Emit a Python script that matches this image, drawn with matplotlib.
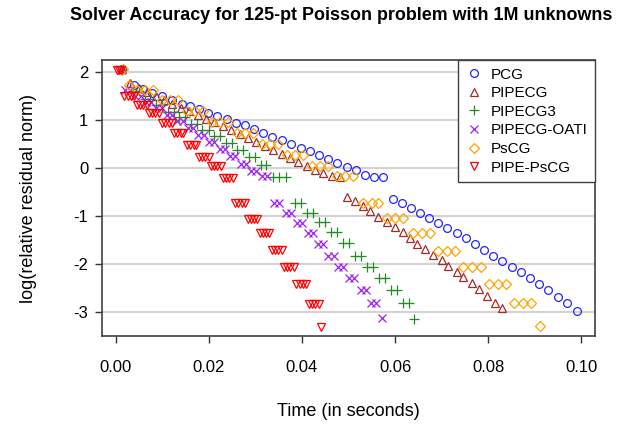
#!/usr/bin/env python3
"""
Solver accuracy plot: log relative residual norm vs. wall time
for CG variants on a 125-pt Poisson problem.
"""

import matplotlib
matplotlib.use("Agg")
import matplotlib.pyplot as plt

# PCG
pcg_time = [0.0012, 0.0039, 0.0058, 0.0077, 0.0099, 0.0120, 0.0142, 0.0159, 0.0178, 0.0198,
            0.0217, 0.0239, 0.0258, 0.0277, 0.0297, 0.0316, 0.0335, 0.0357, 0.0376, 0.0398,
            0.0417, 0.0437, 0.0456, 0.0475, 0.0497, 0.0516, 0.0535, 0.0555, 0.0574, 0.0596,
            0.0615, 0.0634, 0.0654, 0.0673, 0.0692, 0.0712, 0.0733, 0.0753, 0.0772, 0.0791,
            0.0811, 0.0830, 0.0852, 0.0871, 0.0890, 0.0910, 0.0929, 0.0951, 0.0970, 0.0991]
pcg_res = [2.07, 1.74, 1.66, 1.57, 1.51, 1.43, 1.34, 1.30, 1.24, 1.16,
           1.09, 1.03, 0.95, 0.91, 0.82, 0.74, 0.65, 0.59, 0.51, 0.43,
           0.36, 0.28, 0.20, 0.11, 0.03, -0.03, -0.14, -0.18, -0.18, -0.64,
           -0.72, -0.83, -0.93, -1.03, -1.14, -1.24, -1.34, -1.45, -1.58, -1.70,
           -1.83, -1.93, -2.06, -2.16, -2.29, -2.41, -2.54, -2.68, -2.81, -2.97]

# PIPECG
pipecg_time = [0.0013, 0.0030, 0.0049, 0.0067, 0.0086, 0.0103, 0.0120, 0.0140, 0.0157, 0.0176,
               0.0194, 0.0211, 0.0230, 0.0247, 0.0267, 0.0284, 0.0301, 0.0320, 0.0338, 0.0357,
               0.0374, 0.0391, 0.0411, 0.0428, 0.0445, 0.0465, 0.0482, 0.0496, 0.0514, 0.0532,
               0.0546, 0.0564, 0.0582, 0.0600, 0.0617, 0.0632, 0.0647, 0.0665, 0.0682, 0.0700,
               0.0715, 0.0733, 0.0747, 0.0765, 0.0781, 0.0797, 0.0814, 0.0829]
pipecg_res = [2.08, 1.78, 1.68, 1.59, 1.51, 1.43, 1.34, 1.26, 1.20, 1.11,
              1.03, 0.97, 0.88, 0.80, 0.72, 0.63, 0.55, 0.47, 0.38, 0.30,
              0.22, 0.13, 0.05, -0.03, -0.10, -0.16, -0.18, -0.60, -0.69, -0.78,
              -0.88, -1.01, -1.11, -1.22, -1.32, -1.46, -1.58, -1.69, -1.81, -1.92,
              -2.04, -2.15, -2.26, -2.38, -2.52, -2.66, -2.80, -2.92]

# PIPECG3
pipecg3_time = [0.0012, 0.0037, 0.0049, 0.0062, 0.0074, 0.0086, 0.0099, 0.0111, 0.0124, 0.0136,
                0.0149, 0.0161, 0.0174, 0.0186, 0.0199, 0.0211, 0.0224, 0.0236, 0.0249, 0.0261,
                0.0274, 0.0286, 0.0298, 0.0311, 0.0323, 0.0337, 0.0351, 0.0366, 0.0385, 0.0398,
                0.0411, 0.0424, 0.0437, 0.0449, 0.0462, 0.0475, 0.0488, 0.0501, 0.0514, 0.0527,
                0.0540, 0.0553, 0.0566, 0.0578, 0.0591, 0.0604, 0.0617, 0.0630, 0.0641]
pipecg3_res = [2.05, 1.61, 1.61, 1.45, 1.45, 1.32, 1.32, 1.18, 1.18, 1.07,
               1.07, 0.93, 0.93, 0.80, 0.80, 0.68, 0.68, 0.53, 0.53, 0.38,
               0.38, 0.24, 0.24, 0.07, 0.07, -0.18, -0.18, -0.18, -0.72, -0.72,
               -0.92, -0.92, -1.12, -1.12, -1.33, -1.33, -1.56, -1.56, -1.83, -1.83,
               -2.06, -2.06, -2.29, -2.29, -2.54, -2.54, -2.80, -2.80, -3.13]

# PIPECG-OATI
oati_time = [0.0011, 0.0019, 0.0031, 0.0042, 0.0053, 0.0065, 0.0076, 0.0087, 0.0098, 0.0110,
             0.0121, 0.0132, 0.0144, 0.0155, 0.0166, 0.0177, 0.0189, 0.0200, 0.0211, 0.0223,
             0.0234, 0.0245, 0.0256, 0.0268, 0.0279, 0.0290, 0.0302, 0.0313, 0.0324, 0.0340,
             0.0351, 0.0365, 0.0376, 0.0390, 0.0401, 0.0412, 0.0423, 0.0434, 0.0446, 0.0457,
             0.0468, 0.0478, 0.0489, 0.0501, 0.0512, 0.0526, 0.0538, 0.0548, 0.0559, 0.0571]
oati_res = [2.05, 1.64, 1.64, 1.51, 1.51, 1.38, 1.38, 1.26, 1.26, 1.11,
            1.11, 0.99, 0.99, 0.84, 0.84, 0.70, 0.70, 0.55, 0.55, 0.40,
            0.40, 0.26, 0.26, 0.09, 0.09, -0.05, -0.05, -0.16, -0.16, -0.72,
            -0.72, -0.92, -0.92, -1.13, -1.13, -1.34, -1.34, -1.58, -1.58, -1.83,
            -1.83, -2.06, -2.06, -2.29, -2.29, -2.54, -2.54, -2.81, -2.81, -3.11]

# PsCG
pscg_time = [0.0016, 0.0028, 0.0045, 0.0062, 0.0080, 0.0099, 0.0116, 0.0133, 0.0153, 0.0170,
             0.0187, 0.0206, 0.0224, 0.0241, 0.0260, 0.0277, 0.0295, 0.0314, 0.0331, 0.0348,
             0.0368, 0.0385, 0.0402, 0.0422, 0.0439, 0.0456, 0.0475, 0.0492, 0.0510, 0.0532,
             0.0550, 0.0564, 0.0582, 0.0600, 0.0617, 0.0639, 0.0657, 0.0675, 0.0693, 0.0711,
             0.0729, 0.0747, 0.0765, 0.0784, 0.0803, 0.0821, 0.0839, 0.0856, 0.0875, 0.0892,
             0.0912]
pscg_res = [2.07, 1.74, 1.64, 1.64, 1.64, 1.43, 1.43, 1.43, 1.20, 1.20,
            1.20, 0.97, 0.97, 0.97, 0.74, 0.74, 0.74, 0.51, 0.51, 0.51,
            0.28, 0.28, 0.28, 0.05, 0.05, 0.05, -0.16, -0.16, -0.16, -0.72,
            -0.72, -0.72, -1.03, -1.03, -1.03, -1.34, -1.34, -1.34, -1.72, -1.72,
            -1.72, -2.06, -2.06, -2.06, -2.41, -2.41, -2.41, -2.81, -2.81, -2.81,
            -3.29]

# PIPE-PsCG
pipepscg_time = [0.0003, 0.0007, 0.0011, 0.0018, 0.0025, 0.0032, 0.0039, 0.0045, 0.0052, 0.0059,
                 0.0066, 0.0071, 0.0078, 0.0085, 0.0092, 0.0099, 0.0106, 0.0113, 0.0120, 0.0125,
                 0.0132, 0.0139, 0.0145, 0.0153, 0.0160, 0.0167, 0.0173, 0.0179, 0.0185, 0.0192,
                 0.0199, 0.0204, 0.0211, 0.0218, 0.0225, 0.0230, 0.0237, 0.0244, 0.0251, 0.0256,
                 0.0263, 0.0270, 0.0277, 0.0283, 0.0290, 0.0297, 0.0304, 0.0309, 0.0316, 0.0322,
                 0.0329, 0.0336, 0.0342, 0.0349, 0.0356, 0.0361, 0.0368, 0.0375, 0.0382, 0.0388,
                 0.0395, 0.0402, 0.0409, 0.0415, 0.0422, 0.0429, 0.0436, 0.0441]
pipepscg_res = [2.05, 2.05, 2.05, 1.51, 1.51, 1.51, 1.51, 1.32, 1.32, 1.32,
                1.32, 1.16, 1.16, 1.16, 1.16, 0.94, 0.94, 0.94, 0.94, 0.73,
                0.73, 0.73, 0.73, 0.49, 0.49, 0.49, 0.49, 0.24, 0.24, 0.24,
                0.24, 0.04, 0.04, 0.04, 0.04, -0.21, -0.21, -0.21, -0.21, -0.72,
                -0.72, -0.72, -0.72, -1.06, -1.06, -1.06, -1.06, -1.35, -1.35, -1.35,
                -1.35, -1.71, -1.71, -1.71, -1.71, -2.06, -2.06, -2.06, -2.06, -2.41,
                -2.41, -2.41, -2.41, -2.83, -2.83, -2.83, -2.83, -3.30]

labels = ["PCG", "PIPECG", "PIPECG3", "PIPECG-OATI", "PsCG", "PIPE-PsCG"]
colors = ["#2424ff", "#a52a2a", "#228b22", "#a020f0", "#ffa500", "#ff0000"]
markers = ["o", "^", "+", "x", "D", "v"]
msizes = [5.6, 6.0, 7.4, 5.2, 5.0, 6.2]

y_ticks = [-3, -2, -1, 0, 1, 2]
x_ticks = [0.00, 0.02, 0.04, 0.06, 0.08, 0.10]


def main():
    plt.rcParams["font.family"] = ["Liberation Sans", "DejaVu Sans"]

    fig = plt.figure(figsize=(6.36, 4.25), dpi=100)
    ax = fig.add_axes([0.1604, 0.2094, 0.7751, 0.6494])

    # horizontal grid at each y tick
    for yv in y_ticks:
        ax.axhline(yv, color="#d3d3d3", lw=1.6, zorder=0)

    series = [(pcg_time, pcg_res), (pipecg_time, pipecg_res), (pipecg3_time, pipecg3_res),
              (oati_time, oati_res), (pscg_time, pscg_res), (pipepscg_time, pipepscg_res)]

    for (t, r), lab, col, mk, ms in zip(series, labels, colors, markers, msizes):
        ax.plot(t, r, linestyle="none", marker=mk, markersize=ms,
                markerfacecolor="none", markeredgecolor=col, markeredgewidth=0.9,
                label=lab, zorder=3)

    ax.set_xlim(-0.0030, 0.1030)
    ax.set_ylim(-3.495, 2.26)
    ax.set_xticks(x_ticks)
    ax.set_xticklabels(["%.2f" % v for v in x_ticks])
    ax.set_yticks(y_ticks)
    ax.set_yticklabels([str(v) for v in y_ticks])
    ax.tick_params(direction="out", length=5, width=1.0, color="#333333",
                   labelsize=12, labelcolor="black")
    ax.tick_params(axis="x", pad=12.5)
    ax.tick_params(axis="y", pad=5)

    for sp in ax.spines.values():
        sp.set_color("#404040")
        sp.set_linewidth(1.2)

    ax.set_xlabel("Time (in seconds)", fontsize=13)
    ax.xaxis.set_label_coords(0.5, -0.275)
    ax.xaxis.label.set_va("center")
    ax.set_ylabel("log(relative residual norm)", fontsize=13)
    ax.yaxis.set_label_coords(-0.150, 0.5)
    ax.yaxis.label.set_va("center")

    ax.text(0.486, 1.163, "Solver Accuracy for 125-pt Poisson problem with 1M unknowns",
            transform=ax.transAxes, ha="center", va="center",
            fontsize=12.9, fontweight="bold")

    leg = ax.legend(loc="upper right", borderaxespad=0, fancybox=False, framealpha=1,
                    edgecolor="#404040", fontsize=11, handlelength=1.0,
                    handletextpad=0.6, borderpad=0.5, labelspacing=0.3)
    leg.get_frame().set_linewidth(1.0)

    plt.savefig("out.png", dpi=100)


if __name__ == "__main__":
    main()
